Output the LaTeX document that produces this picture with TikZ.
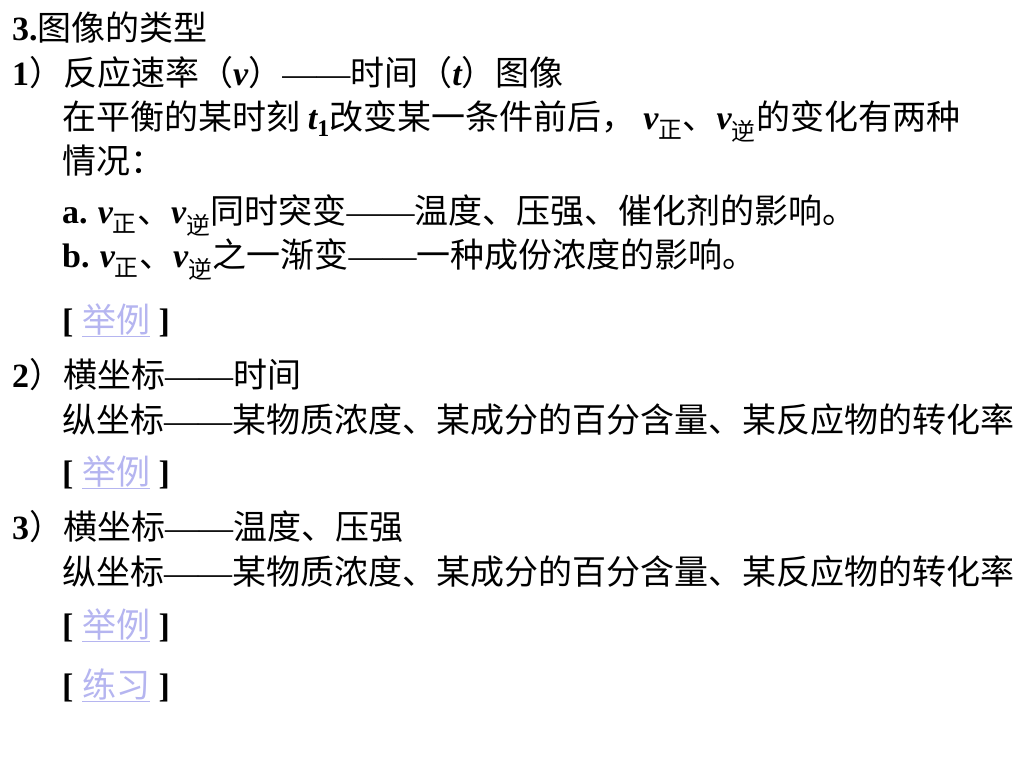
\documentclass[tikz,border=0pt]{standalone}
\usepackage{fontspec}
\setmainfont{Noto Sans CJK SC}
\newfontfamily\lat{Liberation Serif}
\usepackage{xcolor}
\usepackage{tikz}
\usetikzlibrary{positioning}
\definecolor{lavande}{rgb}{0.71, 0.71, 0.94}
\newcommand{\B}[1]{{\lat\bfseries #1}}
\newcommand{\vv}[1]{{\lat\bfseries\itshape v}\textsubscript{#1}}
\newcommand{\tiret}{{\lat ——}}
\newcommand{\lien}[1]{\B{[\ }{\color{lavande}\underline{#1}}\B{\ ]}}

\begin{document}
\begin{tikzpicture}[x=1pt,y=-1pt]
        \tikzset{
          texte/.style={
            anchor=base west,inner sep=0pt,text=black,
            font=\fontsize{34}{40}\selectfont,
          },
          }
        \useasboundingbox (0,0) rectangle (1024,768);
        \fill[white] (0,0) rectangle (1024,768);
        \node[texte] (titre) at (12,41) {\B{3.}图像的类型};
        \node[texte] (a) at (12,85) {\B{1}）反应速率（{\lat\bfseries\itshape v}）\tiret 时间（{\lat\bfseries\itshape t}）图像};
        \node[texte] (b) at (62,129) {在平衡的某时刻 {\lat\bfseries\itshape t}\textsubscript{\B{1}}改变某一条件前后， \vv{正}、\vv{逆}的变化有两种};
        \node[texte] (c) at (62,173) {情况：};
        \node[texte] (d) at (62,223) {\B{a.} \vv{正}、\vv{逆}同时突变\tiret 温度、压强、催化剂的影响。};
        \node[texte] (e) at (62,267) {\B{b.} \vv{正}、\vv{逆}之一渐变\tiret 一种成份浓度的影响。};
        \node[texte] (f) at (62,332) {\lien{举例}};
        \node[texte] (g) at (12,387) {\B{2}）横坐标\tiret 时间};
        \node[texte] (h) at (62,432) {纵坐标\tiret 某物质浓度、某成分的百分含量、某反应物的转化率};
        \node[texte] (i) at (62,484) {\lien{举例}};
        \node[texte] (j) at (12,539) {\B{3}）横坐标\tiret 温度、压强};
        \node[texte] (k) at (62,584) {纵坐标\tiret 某物质浓度、某成分的百分含量、某反应物的转化率};
        \node[texte] (l) at (62,637) {\lien{举例}};
        \node[texte] (m) at (62,697) {\lien{练习}};
      \end{tikzpicture}
\end{document}
